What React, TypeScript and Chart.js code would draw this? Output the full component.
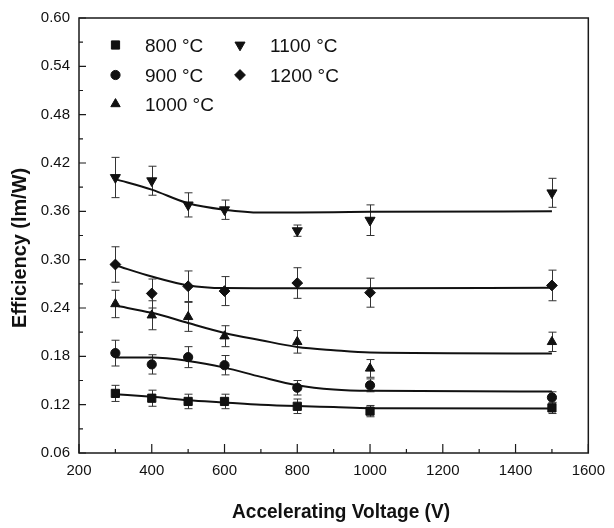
import React, { useEffect, useRef } from 'react';
import { Chart, registerables } from 'chart.js';
import { drawPoint } from 'chart.js/helpers';

Chart.register(...registerables);

// ---- data ----
const voltages = [300, 400, 500, 600, 800, 1000, 1500];

const eff800 = [0.134, 0.128, 0.124, 0.124, 0.118, 0.112, 0.116];
const err800 = [0.010, 0.010, 0.009, 0.009, 0.009, 0.007, 0.007];
const eff900 = [0.184, 0.170, 0.179, 0.169, 0.141, 0.144, 0.129];
const err900 = [0.016, 0.012, 0.013, 0.012, 0.009, 0.008, 0.007];
const eff1000 = [0.245, 0.231, 0.229, 0.205, 0.198, 0.165, 0.198];
const err1000 = [0.017, 0.018, 0.018, 0.013, 0.014, 0.011, 0.012];
const eff1100 = [0.402, 0.398, 0.368, 0.362, 0.336, 0.349, 0.383];
const err1100 = [0.025, 0.018, 0.015, 0.012, 0.007, 0.019, 0.018];
const eff1200 = [0.294, 0.258, 0.267, 0.261, 0.271, 0.259, 0.268];
const err1200 = [0.022, 0.018, 0.019, 0.018, 0.019, 0.018, 0.019];

const fitVoltages = [300, 400, 500, 600, 700, 800, 900, 1000, 1500];
const fit800 = [0.133, 0.1297, 0.1256, 0.1228, 0.120, 0.1182, 0.117, 0.1157, 0.1153];
const fit900 = [0.1785, 0.1785, 0.1743, 0.166, 0.1545, 0.1442, 0.1389, 0.1372, 0.1364];
const fit1000 = [0.243, 0.234, 0.2214, 0.209, 0.200, 0.1917, 0.1876, 0.1847, 0.1835];
const fit1100 = [0.400, 0.387, 0.370, 0.362, 0.3585, 0.3587, 0.359, 0.3595, 0.360];
const fit1200 = [0.293, 0.279, 0.268, 0.2647, 0.2645, 0.2645, 0.2645, 0.2645, 0.265];

const seriesLabels = ['800 \u00B0C', '900 \u00B0C', '1000 \u00B0C', '1100 \u00B0C', '1200 \u00B0C'];

const xTickValues = [200, 400, 600, 800, 1000, 1200, 1400, 1600];
const xMinorValues = [300, 500, 700, 900, 1100, 1300, 1500];
const yTickValues = [0.06, 0.12, 0.18, 0.24, 0.30, 0.36, 0.42, 0.48, 0.54, 0.60];
const yMinorValues = [0.09, 0.15, 0.21, 0.27, 0.33, 0.39, 0.45, 0.51, 0.57];

const xTitle = 'Accelerating Voltage (V)';
const yTitle = 'Efficiency (lm/W)';

// ---- styling ----
const INK = '#111';
const markerStyles = [
  { pointStyle: 'rect', radius: 5.8, rotation: 0 },
  { pointStyle: 'circle', radius: 4.6, rotation: 0 },
  { pointStyle: 'triangle', radius: 5.4, rotation: 0 },
  { pointStyle: 'triangle', radius: 5.8, rotation: 180 },
  { pointStyle: 'rectRot', radius: 5.4, rotation: 0 },
];

const effSeries = [eff800, eff900, eff1000, eff1100, eff1200];
const errSeries = [err800, err900, err1000, err1100, err1200];
const fitSeries = [fit800, fit900, fit1000, fit1100, fit1200];

const errorBarPlugin = {
  id: 'errorBars',
  beforeDatasetsDraw(chart: any) {
    const { ctx, scales } = chart;
    const xs = scales.x;
    const ys = scales.y;
    ctx.save();
    ctx.strokeStyle = '#333';
    ctx.lineWidth = 1;
    const cap = 4;
    effSeries.forEach((vals, si) => {
      const errs = errSeries[si];
      vals.forEach((v, i) => {
        const px = Math.round(xs.getPixelForValue(voltages[i])) + 0.5;
        const top = ys.getPixelForValue(v + errs[i]);
        const bot = ys.getPixelForValue(v - errs[i]);
        ctx.beginPath();
        ctx.moveTo(px, top);
        ctx.lineTo(px, bot);
        ctx.moveTo(px - cap, top);
        ctx.lineTo(px + cap, top);
        ctx.moveTo(px - cap, bot);
        ctx.lineTo(px + cap, bot);
        ctx.stroke();
      });
    });
    ctx.restore();
  },
};

const framePlugin = {
  id: 'frameTicks',
  afterDatasetsDraw(chart: any) {
    const { ctx, chartArea, scales } = chart;
    const { left, right, top, bottom } = chartArea;
    ctx.save();
    ctx.strokeStyle = '#1a1a1a';
    ctx.lineWidth = 1.5;
    ctx.strokeRect(left, top, right - left, bottom - top);
    ctx.lineWidth = 1.2;
    ctx.beginPath();
    yTickValues.forEach((v) => {
      const py = scales.y.getPixelForValue(v);
      ctx.moveTo(left, py);
      ctx.lineTo(left + 7, py);
    });
    yMinorValues.forEach((v) => {
      const py = scales.y.getPixelForValue(v);
      ctx.moveTo(left, py);
      ctx.lineTo(left + 4, py);
    });
    xTickValues.forEach((v) => {
      const px = scales.x.getPixelForValue(v);
      ctx.moveTo(px, bottom);
      ctx.lineTo(px, bottom - 9);
    });
    xMinorValues.forEach((v) => {
      const px = scales.x.getPixelForValue(v);
      ctx.moveTo(px, bottom);
      ctx.lineTo(px, bottom - 4);
    });
    ctx.stroke();
    ctx.restore();
  },
};

function drawCondensed(ctx: CanvasRenderingContext2D, text: string, targetWidth: number) {
  const w = ctx.measureText(text).width;
  const k = w > targetWidth ? targetWidth / w : 1;
  ctx.save();
  ctx.scale(k, 1);
  ctx.fillText(text, 0, 0);
  ctx.restore();
}

const legendTitlePlugin = {
  id: 'legendTitles',
  afterDraw(chart: any) {
    const { ctx, chartArea } = chart;
    ctx.save();
    // legend (two columns, inside the plot area)
    const colMarkerX = [chartArea.left + 36.5, chartArea.left + 161];
    const colTextX = [chartArea.left + 66, chartArea.left + 191];
    const rowY = [chartArea.top + 27, chartArea.top + 57, chartArea.top + 86];
    const slots = [[0, 0], [0, 1], [0, 2], [1, 0], [1, 1]];
    ctx.font = '19px "Liberation Sans", Arial, sans-serif';
    ctx.fillStyle = INK;
    ctx.textAlign = 'left';
    ctx.textBaseline = 'alphabetic';
    seriesLabels.forEach((label, i) => {
      const [c, r] = slots[i];
      const m = markerStyles[i];
      ctx.fillStyle = INK;
      ctx.strokeStyle = INK;
      ctx.lineWidth = 1;
      drawPoint(ctx, { pointStyle: m.pointStyle, radius: m.radius, rotation: m.rotation, borderWidth: 1 } as any, colMarkerX[c], rowY[r]);
      ctx.fillText(label, colTextX[c], rowY[r] + 7);
    });
    // axis titles (slightly condensed bold sans)
    ctx.font = 'bold 21px "Liberation Sans", Arial, sans-serif';
    ctx.textAlign = 'center';
    ctx.textBaseline = 'middle';
    ctx.save();
    ctx.translate(341, 512);
    drawCondensed(ctx, xTitle, 218);
    ctx.restore();
    ctx.save();
    ctx.translate(20, 248);
    ctx.rotate(-Math.PI / 2);
    drawCondensed(ctx, yTitle, 160);
    ctx.restore();
    ctx.restore();
  },
};

export default function App() {
  const canvasRef = useRef<HTMLCanvasElement | null>(null);

  useEffect(() => {
    const canvas = canvasRef.current;
    if (!canvas) return;

    const markerDatasets = effSeries.map((vals, i) => ({
      type: 'line' as const,
      label: seriesLabels[i],
      data: vals.map((v, j) => ({ x: voltages[j], y: v })),
      showLine: false,
      pointStyle: markerStyles[i].pointStyle,
      pointRadius: markerStyles[i].radius,
      pointRotation: markerStyles[i].rotation,
      pointBackgroundColor: INK,
      pointBorderColor: INK,
      pointBorderWidth: 1,
      order: 0,
    }));
    const fitDatasets = fitSeries.map((vals, i) => ({
      type: 'line' as const,
      label: seriesLabels[i] + ' fit',
      data: vals.map((v, j) => ({ x: fitVoltages[j], y: v })),
      borderColor: INK,
      borderWidth: 2,
      pointRadius: 0,
      cubicInterpolationMode: 'monotone' as const,
      fill: false,
      order: 1,
    }));

    const chart = new Chart(canvas, {
      type: 'line',
      data: { datasets: [...markerDatasets, ...fitDatasets] as any },
      options: {
        animation: false,
        responsive: false,
        events: [],
        layout: { padding: { left: 0, right: 22, top: 17, bottom: 0 } },
        plugins: { legend: { display: false }, tooltip: { enabled: false } },
        scales: {
          x: {
            type: 'linear',
            min: 200,
            max: 1600,
            grid: { display: false, drawTicks: false },
            border: { display: false },
            afterFit: (s: any) => { s.height = 75; },
            afterBuildTicks: (s: any) => { s.ticks = xTickValues.map((v) => ({ value: v })); },
            ticks: {
              padding: 9,
              color: INK,
              font: { family: '"Liberation Sans", Arial, sans-serif', size: 15 },
              maxRotation: 0,
              callback: (v: any) => String(v),
            },
          },
          y: {
            type: 'linear',
            min: 0.06,
            max: 0.60,
            grid: { display: false, drawTicks: false },
            border: { display: false },
            afterFit: (s: any) => { s.width = 79; },
            afterBuildTicks: (s: any) => { s.ticks = yTickValues.map((v) => ({ value: v })); },
            ticks: {
              padding: 9,
              color: INK,
              font: { family: '"Liberation Sans", Arial, sans-serif', size: 15 },
              callback: (v: any) => Number(v).toFixed(2),
            },
          },
        },
      },
      plugins: [errorBarPlugin, framePlugin, legendTitlePlugin],
    });

    return () => chart.destroy();
  }, []);

  return (
    <div style={{ position: 'absolute', left: 0, top: 0, width: 614, height: 528, background: '#fff' }}>
      <canvas ref={canvasRef} width={614} height={528} style={{ display: 'block' }} />
    </div>
  );
}
